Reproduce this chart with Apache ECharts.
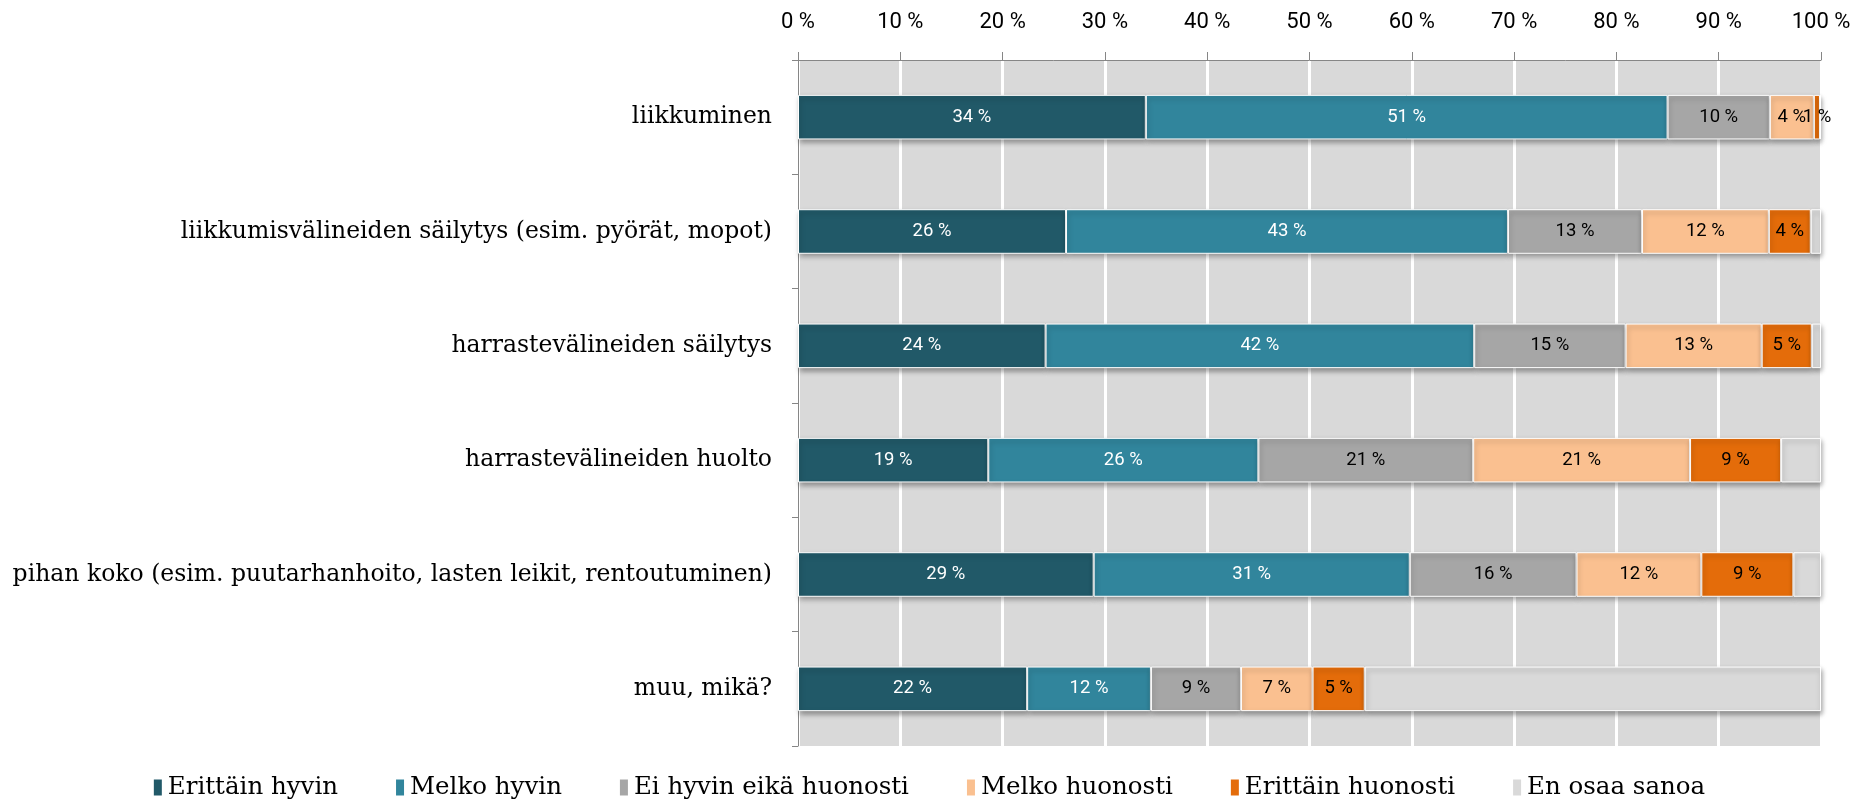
<!DOCTYPE html>
<html>
<head>
<meta charset="utf-8">
<script src="https://cdn.jsdelivr.net/npm/echarts@6/dist/echarts.min.js"></script>
<style>
  html, body { margin: 0; padding: 0; background: #fff; }
  #main { width: 1857px; height: 800px; }
</style>
</head>
<body>
<div id="main"></div>
<script>
  // kategoriat (ylhäältä alas)
  var categories = [
    'liikkuminen',
    'liikkumisvälineiden säilytys (esim. pyörät, mopot)',
    'harrastevälineiden säilytys',
    'harrastevälineiden huolto',
    'pihan koko (esim. puutarhanhoito, lasten leikit, rentoutuminen)',
    'muu, mikä?'
  ]
  var seriesNames = ['Erittäin hyvin', 'Melko hyvin', 'Ei hyvin eikä huonosti', 'Melko huonosti', 'Erittäin huonosti', 'En osaa sanoa']
  var erittainHyvin = [34.0, 26.2, 24.2, 18.6, 28.9, 22.4]
  var melkoHyvin = [51.0, 43.2, 41.9, 26.4, 30.9, 12.1]
  var eiHyvinEikaHuonosti = [10.0, 13.1, 14.8, 21.0, 16.3, 8.8]
  var melkoHuonosti = [4.3, 12.4, 13.3, 21.2, 12.2, 7.0]
  var erittainHuonosti = [0.6, 4.1, 4.9, 8.9, 9.0, 5.1]
  var enOsaaSanoa = [0.1, 1.0, 0.9, 3.9, 2.7, 44.6]
  var tickLabels = ['0 %', '10 %', '20 %', '30 %', '40 %', '50 %', '60 %', '70 %', '80 %', '90 %', '100 %']

  var colors = ['#215968', '#31859c', '#a6a6a6', '#fac090', '#e46c0a', '#d9d9d9']
  var labelColors = ['#ffffff', '#ffffff', '#000000', '#000000', '#000000', '#000000']
  var allData = [erittainHyvin, melkoHyvin, eiHyvinEikaHuonosti, melkoHuonosti, erittainHuonosti, enOsaaSanoa]

  var sansFont = "Roboto, 'Open Sans', sans-serif"
  var serifFont = "'DejaVu Serif', 'Liberation Serif', serif"

  var series = []
  for (var i = 0; i < seriesNames.length; i++) {
    series.push({
      name: seriesNames[i],
      type: 'bar',
      stack: 'total',
      barCategoryGap: '61%',
      data: allData[i],
      itemStyle: {
        color: colors[i],
        borderColor: '#ffffff',
        borderWidth: 1,
        shadowColor: 'rgba(0, 0, 0, 0.35)',
        shadowBlur: 5,
        shadowOffsetX: 1,
        shadowOffsetY: 3
      },
      label: {
        show: i < 5,
        position: 'inside',
        color: labelColors[i],
        fontFamily: sansFont,
        fontSize: 18.5,
        formatter: function (p) {
          return Math.round(p.value) + ' %'
        }
      },
      emphasis: { disabled: true }
    })
  }

  var chart = echarts.init(document.getElementById('main'))
  chart.setOption({
    animation: false,
    color: colors,
    grid: {
      left: 798,
      right: 36,
      top: 60,
      bottom: 54,
      show: true,
      backgroundColor: '#d9d9d9',
      borderWidth: 0
    },
    legend: {
      top: 770,
      left: 'center',
      itemWidth: 10,
      itemHeight: 18,
      itemGap: 56,
      icon: 'rect',
      textStyle: { fontFamily: serifFont, fontSize: 24.5, color: '#000' },
      data: seriesNames
    },
    xAxis: {
      type: 'value',
      position: 'top',
      min: 0,
      max: 100,
      interval: 10,
      axisLine: { show: true, lineStyle: { color: '#868686', width: 1 } },
      axisTick: { show: true, inside: false, length: 8, lineStyle: { color: '#868686' } },
      axisLabel: {
        margin: 27,
        fontFamily: sansFont,
        fontSize: 22,
        color: '#000',
        formatter: function (v) { return tickLabels[v / 10] }
      },
      splitLine: { show: true, lineStyle: { color: '#ffffff', width: 3 } }
    },
    yAxis: {
      type: 'category',
      inverse: true,
      data: categories,
      axisLine: { show: true, lineStyle: { color: '#868686', width: 1 } },
      axisTick: { show: true, length: 6, lineStyle: { color: '#868686' } },
      axisLabel: {
        margin: 26,
        fontFamily: serifFont,
        fontSize: 23.5,
        color: '#000'
      }
    },
    series: series
  })
</script>
</body>
</html>
